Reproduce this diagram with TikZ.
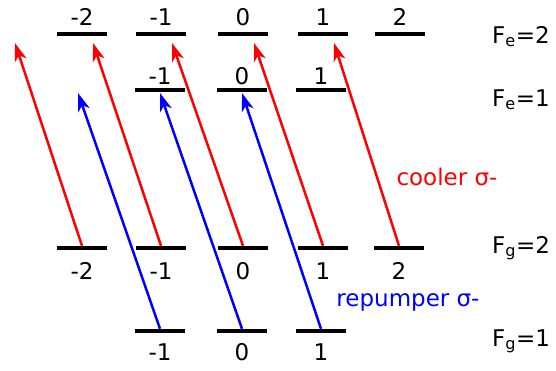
\documentclass[tikz,border=0pt]{standalone}
\usepackage{fontspec}
\setmainfont{DejaVu Sans}
\usepackage{tikz}
\usetikzlibrary{positioning,calc,arrows.meta}
\definecolor{cred}{HTML}{FF0000}
\definecolor{cblue}{HTML}{0000FF}

\begin{document}
\begin{tikzpicture}[x=1pt, y=-1pt, font=\fontsize{23}{27}\selectfont,
  lvl/.style={fill=black, inner sep=0pt, minimum width=50pt, minimum height=4pt},
  num/.style={inner sep=0pt},
  lbl/.style={anchor=base west, inner sep=0pt},
  cool/.style={-{Stealth[length=18pt, width=12pt, inset=5pt]}, line width=2.5pt, draw=cred},
  rep/.style={-{Stealth[length=18pt, width=12pt, inset=5pt]}, line width=2.5pt, draw=cblue}]
  \useasboundingbox (0,0) rectangle (556,370);
  % excited state F_e=2
  \foreach \m/\x/\k in {-2/82/a, -1/161/b, 0/243/c, 1/323/d, 2/400/e} {
    \node[lvl] (e2\k) at (\x,34) {};
    \node[num, above=6pt of e2\k] (ne2\k) {\m};
  }
  % excited state F_e=1
  \foreach \m/\x/\k in {-1/160/b, 0/242/c, 1/321/d} {
    \node[lvl] (e1\k) at (\x,90) {};
    \node[num, above=3pt of e1\k] (ne1\k) {\m};
  }
  % ground state F_g=2
  \foreach \m/\x/\k in {-2/82/a, -1/161/b, 0/243/c, 1/323/d, 2/399/e} {
    \node[lvl] (g2\k) at (\x,248) {};
    \node[num, below=12pt of g2\k] (ng2\k) {\m};
  }
  % ground state F_g=1
  \foreach \m/\x/\k in {-1/160/b, 0/242/c, 1/321/d} {
    \node[lvl] (g1\k) at (\x,331) {};
    \node[num, below=10pt of g1\k] (ng1\k) {\m};
  }
  % free ends where m=-3 / m=-2 would sit
  \coordinate (e2x) at (4,34);
  \coordinate (e1x) at (78,90);
  % cooler sigma-
  \draw[cool] (g2a.north) -- ([xshift=11pt, yshift=-9pt]e2x);
  \draw[cool] (g2b.north) -- ([xshift=11pt, yshift=-9pt]e2a.center);
  \draw[cool] (g2c.north) -- ([xshift=11pt, yshift=-9pt]e2b.center);
  \draw[cool] (g2d.north) -- ([xshift=11pt, yshift=-9pt]e2c.center);
  \draw[cool] (g2e.north) -- ([xshift=11pt, yshift=-9pt]e2d.center);
  % repumper sigma-
  \draw[rep] (g1b.north) -- ([yshift=-3pt]e1x);
  \draw[rep] (g1c.north) -- ([yshift=-3pt]e1b.center);
  \draw[rep] (g1d.north) -- ([yshift=-3pt]e1c.center);
  % labels
  \node[lbl] (lfe2) at (492,43)  {F\textsubscript{e}=2};
  \node[lbl] (lfe1) at (492,106) {F\textsubscript{e}=1};
  \node[lbl] (lfg2) at (492,253) {F\textsubscript{g}=2};
  \node[lbl] (lfg1) at (492,346) {F\textsubscript{g}=1};
  \node[text=cred]  (cooler) at (447,177) {cooler σ-};
  \node[text=cblue] (repump) at (408,302) {repumper σ-};
\end{tikzpicture}
\end{document}
